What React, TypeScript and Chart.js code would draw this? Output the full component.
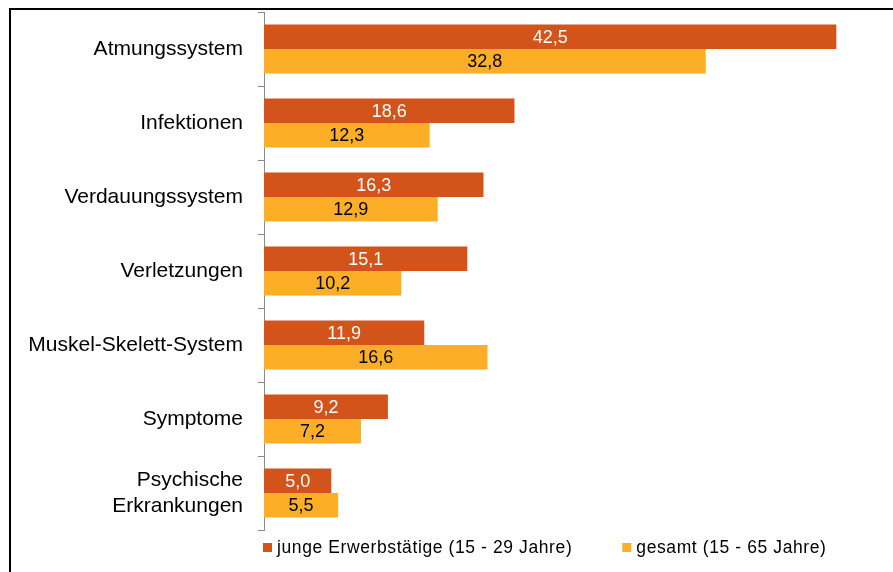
import React, { useEffect, useRef } from "react";
import { Chart, registerables } from "chart.js";

Chart.register(...registerables);

const categories: (string | string[])[] = [
  "Atmungssystem",
  "Infektionen",
  "Verdauungssystem",
  "Verletzungen",
  "Muskel-Skelett-System",
  "Symptome",
  ["Psychische", "Erkrankungen"],
];

const seriesNames = ["junge Erwerbstätige (15 - 29 Jahre)", "gesamt (15 - 65 Jahre)"];
const youngWorkers = [42.5, 18.6, 16.3, 15.1, 11.9, 9.2, 5.0];
const allWorkers = [32.8, 12.3, 12.9, 10.2, 16.6, 7.2, 5.5];

const RED = "#D2541A";
const ORANGE = "#FDAE27";
const FONT = "'Liberation Sans', Arial, sans-serif";

// Writes each value centered inside its bar, German decimal comma
const valueLabels = {
  id: "valueLabels",
  afterDatasetsDraw(chart: any) {
    const ctx = chart.ctx;
    ctx.save();
    ctx.font = `18px ${FONT}`;
    ctx.textAlign = "center";
    ctx.textBaseline = "middle";
    chart.data.datasets.forEach((ds: any, di: number) => {
      const meta = chart.getDatasetMeta(di);
      ctx.fillStyle = di === 0 ? "#FFFFFF" : "#000000";
      meta.data.forEach((bar: any, i: number) => {
        const v = ds.data[i] as number;
        const cx = (bar.x + bar.base) / 2;
        ctx.fillText(v.toFixed(1).replace(".", ","), cx, bar.y + 1);
      });
    });
    ctx.restore();
  },
};

// Legend row under the plot: small square swatches followed by the series name
const bottomLegend = {
  id: "bottomLegend",
  afterDraw(chart: any) {
    const ctx = chart.ctx;
    const area = chart.chartArea;
    const box = 9;
    const gapAfterBox = 5;
    const itemGap = 50;
    const cy = area.bottom + 17.5;
    ctx.save();
    ctx.font = `17.5px ${FONT}`;
    (ctx as any).letterSpacing = "0.6px";
    ctx.textBaseline = "middle";
    ctx.textAlign = "left";
    let x = area.left - 1;
    chart.data.datasets.forEach((ds: any) => {
      ctx.fillStyle = ds.backgroundColor;
      ctx.fillRect(x, cy - box / 2, box, box);
      x += box + gapAfterBox;
      ctx.fillStyle = "#000000";
      ctx.fillText(ds.label, x, cy + 1);
      x += ctx.measureText(ds.label).width + itemGap;
    });
    ctx.restore();
  },
};

export default function App() {
  const canvasRef = useRef<HTMLCanvasElement | null>(null);

  useEffect(() => {
    document.documentElement.style.overflow = "hidden";
    if (!canvasRef.current) return;
    const chart = new Chart(canvasRef.current, {
      type: "bar",
      data: {
        labels: categories,
        datasets: [
          {
            label: seriesNames[0],
            data: youngWorkers,
            backgroundColor: RED,
            categoryPercentage: 0.662,
            barPercentage: 1,
          },
          {
            label: seriesNames[1],
            data: allWorkers,
            backgroundColor: ORANGE,
            categoryPercentage: 0.662,
            barPercentage: 1,
          },
        ],
      },
      options: {
        indexAxis: "y",
        responsive: false,
        animation: false,
        layout: { padding: { top: 2, bottom: 32, left: 0, right: 23 } },
        plugins: {
          legend: { display: false },
          tooltip: { enabled: false },
          title: { display: false },
        },
        scales: {
          x: {
            display: false,
            min: 0,
            max: 45,
          },
          y: {
            afterFit(scale: any) {
              scale.width = 253;
              scale.paddingTop = 0;
              scale.paddingBottom = 0;
            },
            grid: {
              drawOnChartArea: false,
              drawTicks: true,
              tickLength: 6,
              color: "#8A8A8A",
              offset: true,
            },
            border: { display: true, color: "#8A8A8A", width: 1 },
            ticks: {
              padding: 15,
              color: "#000000",
              font: { family: FONT, size: 21, lineHeight: 1.22 },
            },
          },
        },
      },
      plugins: [valueLabels, bottomLegend],
    });
    return () => chart.destroy();
  }, []);

  return (
    <div
      style={{
        position: "fixed",
        left: 9,
        top: 8,
        width: 900,
        height: 600,
        borderTop: "2px solid #000",
        borderLeft: "2px solid #000",
        background: "#fff",
      }}
    >
      <canvas ref={canvasRef} width={882} height={552} style={{ display: "block" }} />
    </div>
  );
}
